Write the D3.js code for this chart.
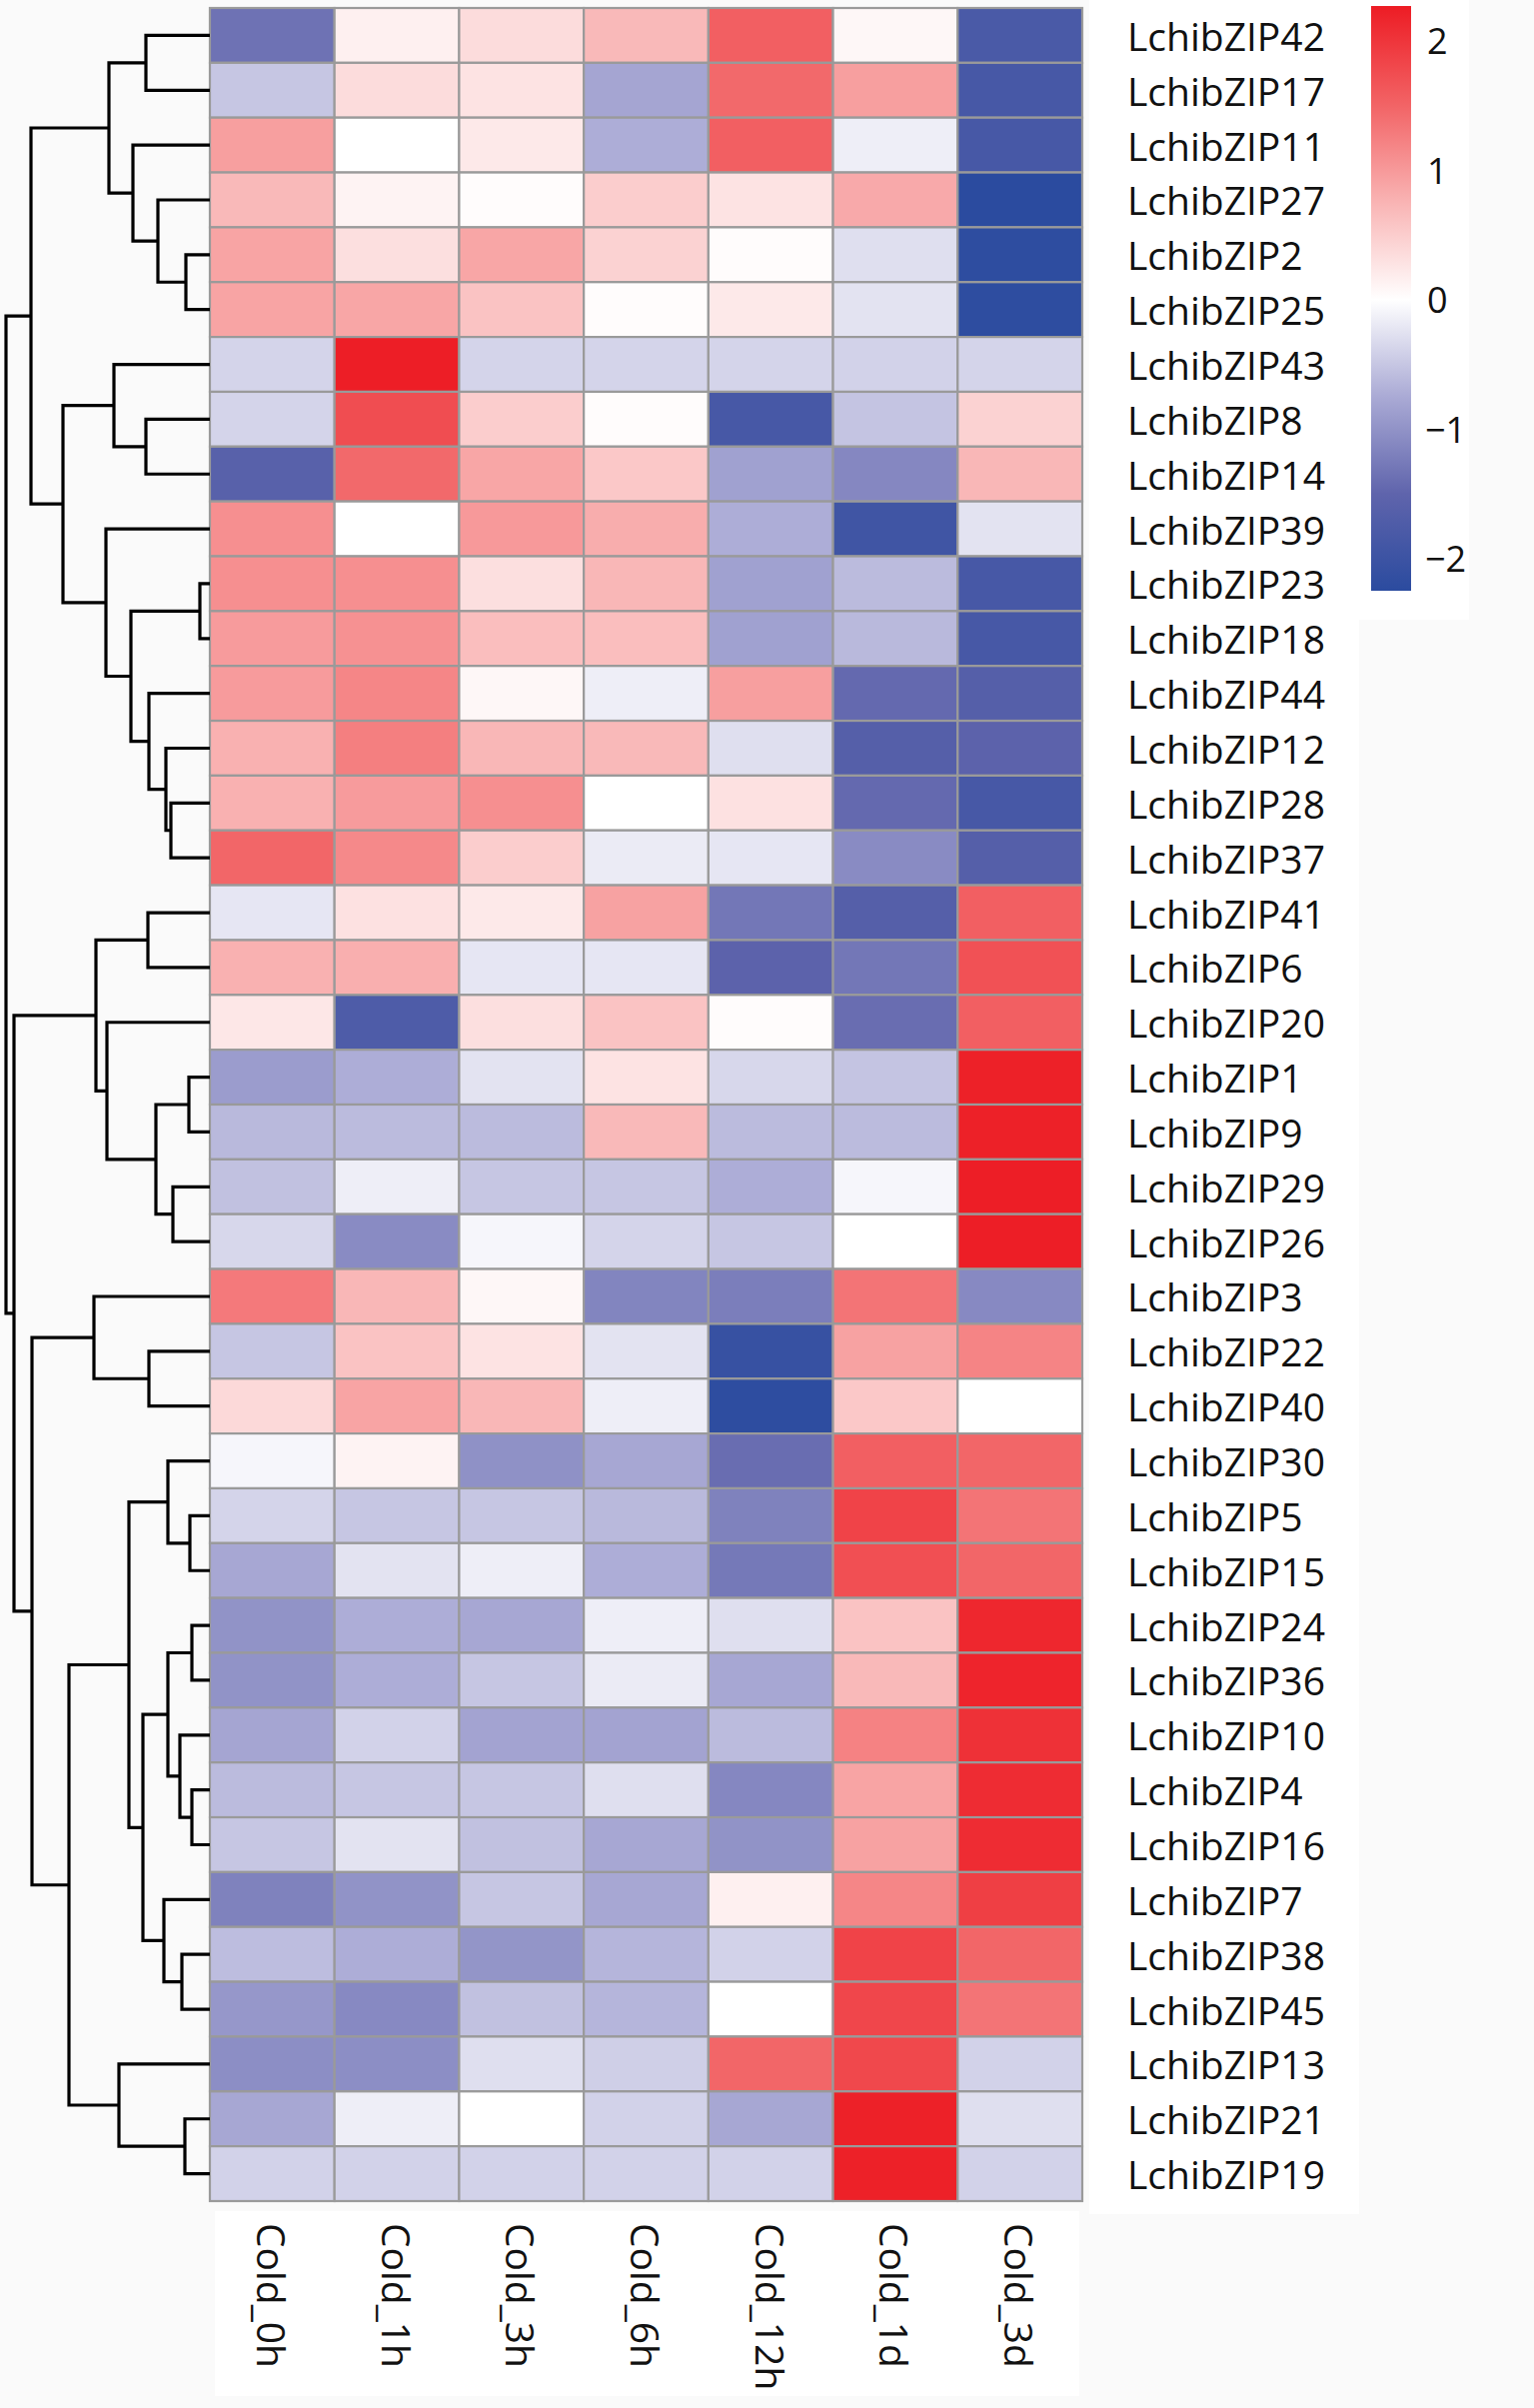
<!DOCTYPE html>
<html>
<head>
<meta charset="utf-8">
<script src="https://cdn.jsdelivr.net/npm/d3@7"></script>
<style>
  body { margin: 0; background: #fafafa; }
  svg { display: block; }
  text { font-family: "Open Sans", "Noto Sans", sans-serif; fill: #111; }
</style>
</head>
<body>
<script>
// Width and height
var w = 1535;
var h = 2409;

// Genes in row order (top to bottom), samples in column order
var genes = ["LchibZIP42","LchibZIP17","LchibZIP11","LchibZIP27","LchibZIP2","LchibZIP25",
  "LchibZIP43","LchibZIP8","LchibZIP14","LchibZIP39","LchibZIP23","LchibZIP18","LchibZIP44",
  "LchibZIP12","LchibZIP28","LchibZIP37","LchibZIP41","LchibZIP6","LchibZIP20","LchibZIP1",
  "LchibZIP9","LchibZIP29","LchibZIP26","LchibZIP3","LchibZIP22","LchibZIP40","LchibZIP30",
  "LchibZIP5","LchibZIP15","LchibZIP24","LchibZIP36","LchibZIP10","LchibZIP4","LchibZIP16",
  "LchibZIP7","LchibZIP38","LchibZIP45","LchibZIP13","LchibZIP21","LchibZIP19"];
var samples = ["Cold_0h","Cold_1h","Cold_3h","Cold_6h","Cold_12h","Cold_1d","Cold_3d"];

// z-scores per sample, one value per gene (same order as genes)
var cold0h  = [-1.35,-0.5,0.95,0.7,0.9,0.9,-0.38,-0.38,-1.6,1.1,1.1,0.98,0.98,0.78,0.78,1.48,-0.22,0.78,0.24,-0.9,-0.62,-0.55,-0.35,1.3,-0.5,0.38,-0.08,-0.38,-0.78,-1.0,-1.0,-0.8,-0.6,-0.5,-1.18,-0.58,-0.95,-1.05,-0.78,-0.4];
var cold1h  = [0.15,0.35,0,0.12,0.32,0.88,2.25,1.75,1.45,0,1.1,1.08,1.18,1.25,0.98,1.15,0.3,0.8,-1.75,-0.72,-0.6,-0.15,-1.08,0.72,0.6,0.9,0.12,-0.5,-0.25,-0.72,-0.72,-0.4,-0.5,-0.25,-1.0,-0.72,-1.1,-1.05,-0.15,-0.4];
var cold3h  = [0.35,0.28,0.22,0.03,0.88,0.6,-0.38,0.5,0.88,1.0,0.32,0.65,0.08,0.72,1.1,0.5,0.22,-0.22,0.32,-0.25,-0.6,-0.5,-0.08,0.08,0.28,0.72,-1.02,-0.5,-0.15,-0.78,-0.5,-0.82,-0.5,-0.55,-0.5,-0.98,-0.55,-0.28,0,-0.4];
var cold6h  = [0.7,-0.8,-0.72,0.5,0.45,0.03,-0.38,0.03,0.55,0.82,0.72,0.65,-0.15,0.7,0,-0.18,0.92,-0.22,0.6,0.28,0.7,-0.5,-0.38,-1.15,-0.25,-0.15,-0.78,-0.62,-0.72,-0.15,-0.18,-0.82,-0.28,-0.78,-0.78,-0.65,-0.65,-0.42,-0.4,-0.4];
var cold12h = [1.55,1.45,1.55,0.28,0.03,0.22,-0.38,-1.85,-0.85,-0.72,-0.85,-0.85,0.95,-0.28,0.3,-0.22,-1.3,-1.55,0.03,-0.35,-0.6,-0.72,-0.5,-1.22,-2.08,-2.2,-1.4,-1.18,-1.28,-0.28,-0.78,-0.6,-1.12,-1.0,0.15,-0.4,0,1.48,-0.78,-0.4];
var cold1d  = [0.08,0.95,-0.15,0.85,-0.28,-0.25,-0.4,-0.52,-1.12,-1.95,-0.6,-0.62,-1.45,-1.65,-1.45,-1.08,-1.65,-1.3,-1.4,-0.52,-0.6,-0.08,0,1.35,0.92,0.55,1.55,1.85,1.72,0.6,0.7,1.22,0.9,0.92,1.18,1.85,1.82,1.8,2.22,2.22];
var cold3d  = [-1.8,-1.85,-1.85,-2.25,-2.2,-2.2,-0.38,0.45,0.72,-0.25,-1.85,-1.85,-1.65,-1.55,-1.85,-1.65,1.55,1.7,1.55,2.22,2.22,2.25,2.25,-1.1,1.2,0,1.48,1.35,1.48,2.15,2.18,2.05,2.1,2.1,1.9,1.48,1.35,-0.4,-0.28,-0.4];
var series = [cold0h, cold1h, cold3h, cold6h, cold12h, cold1d, cold3d];

// Row clustering: [node, left, right, merge height]
var merges = [
  ["A","LchibZIP42","LchibZIP17",64],
  ["B","LchibZIP2","LchibZIP25",24],
  ["C","LchibZIP27","B",52],
  ["D","LchibZIP11","C",77],
  ["E","A","D",101],
  ["I","LchibZIP8","LchibZIP14",64],
  ["J","LchibZIP43","I",96],
  ["M","LchibZIP23","LchibZIP18",10],
  ["P","LchibZIP28","LchibZIP37",39],
  ["O","LchibZIP12","P",44],
  ["N","LchibZIP44","O",61],
  ["L","M","N",79],
  ["K","LchibZIP39","L",104],
  ["G","J","K",147],
  ["F","E","G",179],
  ["T","LchibZIP41","LchibZIP6",62],
  ["W","LchibZIP1","LchibZIP9",21],
  ["X","LchibZIP29","LchibZIP26",37],
  ["V","W","X",54],
  ["U","LchibZIP20","V",103],
  ["R","T","U",114],
  ["AA","LchibZIP22","LchibZIP40",61],
  ["Y","LchibZIP3","AA",116],
  ["AF","LchibZIP5","LchibZIP15",20],
  ["AD","LchibZIP30","AF",42],
  ["AI","LchibZIP24","LchibZIP36",18],
  ["AK","LchibZIP4","LchibZIP16",18],
  ["AJ","LchibZIP10","AK",30],
  ["AG","AI","AJ",42],
  ["AL","LchibZIP38","LchibZIP45",28],
  ["AH","LchibZIP7","AL",46],
  ["AE","AG","AH",67],
  ["AB","AD","AE",81],
  ["AM","LchibZIP21","LchibZIP19",25],
  ["AC","LchibZIP13","AM",91],
  ["Z","AB","AC",141],
  ["S","Y","Z",178],
  ["Q","R","S",196],
  ["H","F","Q",204]
];

// Colour key
var colorStops = [-2.25, -1.5, -0.75, 0, 0.75, 1.5, 2.27];
var colorRange = ["#2B4B9F", "#5F64AC", "#AAAAD5", "#FFFFFF", "#F9B4B4", "#F26466", "#ED1C24"];
var legendTicks = [-2, -1, 0, 1, 2];

var color = d3.scaleLinear()
              .domain(colorStops)
              .range(colorRange);

// Create SVG element
var svg = d3.select("body")
            .append("svg")
            .attr("width", w)
            .attr("height", h);

// light panels behind the labels
svg.append("rect").attr("x", 1090).attr("y", 0).attr("width", 270).attr("height", 2215).attr("fill", "#fff");
svg.append("rect").attr("x", 1360).attr("y", 0).attr("width", 110).attr("height", 620).attr("fill", "#fff");
svg.append("rect").attr("x", 215).attr("y", 2212).attr("width", 865).attr("height", 185).attr("fill", "#fff");

// Heatmap scales
var x = d3.scaleBand()
          .domain(samples)
          .range([210, 1083]);

var y = d3.scaleBand()
          .domain(genes)
          .range([8, 2202]);

var cells = [];
genes.forEach(function(g, i) {
  samples.forEach(function(s, j) {
    cells.push({ gene: g, sample: s, value: series[j][i] });
  });
});

svg.append("g")
   .selectAll("rect")
   .data(cells)
   .enter()
   .append("rect")
   .attr("x", function(d) { return x(d.sample); })
   .attr("y", function(d) { return y(d.gene); })
   .attr("width", x.bandwidth())
   .attr("height", y.bandwidth())
   .attr("fill", function(d) { return color(d.value); })
   .attr("stroke", "#9a9a9a")
   .attr("stroke-width", 2.2);

// Row labels
svg.append("g")
   .selectAll("text")
   .data(genes)
   .enter()
   .append("text")
   .attr("x", 1128)
   .attr("y", function(d) { return y(d) + y.bandwidth() / 2; })
   .attr("dominant-baseline", "central")
   .attr("font-size", 39)
   .text(function(d) { return d; });

// Column labels, rotated
svg.append("g")
   .selectAll("text")
   .data(samples)
   .enter()
   .append("text")
   .attr("transform", function(d) {
      return "translate(" + (x(d) + x.bandwidth() / 2) + ",2224) rotate(90)";
   })
   .attr("dominant-baseline", "central")
   .attr("font-size", 39)
   .text(function(d) { return d; });

// Dendrogram
var nodes = {};
merges.forEach(function(m) {
  nodes[m[0]] = { name: m[0], left: m[1], right: m[2], height: m[3] };
});
var root = d3.hierarchy(nodes["H"], function(d) {
  if (!d.left) return null;
  return [d.left, d.right].map(function(k) {
    return nodes[k] || { name: k, height: 0 };
  });
});

root.eachAfter(function(n) {
  if (n.children) {
    n.y = d3.mean(n.children, function(c) { return c.y; });
  } else {
    n.y = y(n.data.name) + y.bandwidth() / 2;
  }
});

var hx = d3.scaleLinear()
           .domain([0, 204])
           .range([210, 6]);

var dendro = svg.append("g")
                .attr("fill", "none")
                .attr("stroke", "#000")
                .attr("stroke-width", 3.2);

root.descendants().filter(function(n) { return n.children; }).forEach(function(n) {
  var px = hx(n.data.height);
  var a = n.children[0], b = n.children[1];
  dendro.append("path")
        .attr("d", "M" + hx(a.data.height) + "," + a.y +
                   "H" + px + "V" + b.y + "H" + hx(b.data.height));
});

// Colour key legend
var ly = d3.scaleLinear()
           .domain([colorStops[0], colorStops[colorStops.length - 1]])
           .range([591, 6]);

var grad = svg.append("defs")
              .append("linearGradient")
              .attr("id", "key")
              .attr("x1", 0).attr("y1", 1)
              .attr("x2", 0).attr("y2", 0);

grad.selectAll("stop")
    .data(colorStops)
    .enter()
    .append("stop")
    .attr("offset", function(d) { return (d - colorStops[0]) / (colorStops[colorStops.length - 1] - colorStops[0]); })
    .attr("stop-color", function(d) { return color(d); });

svg.append("rect")
   .attr("x", 1372)
   .attr("y", ly.range()[1])
   .attr("width", 40)
   .attr("height", ly.range()[0] - ly.range()[1])
   .attr("fill", "url(#key)");

svg.append("g")
   .selectAll("text")
   .data(legendTicks)
   .enter()
   .append("text")
   .attr("x", function(d) { return d < 0 ? 1426 : 1428; })
   .attr("y", function(d) { return ly(d); })
   .attr("dominant-baseline", "central")
   .attr("font-size", 36)
   .text(function(d) { return d < 0 ? "\u2212" + Math.abs(d) : d; });
</script>
</body>
</html>
